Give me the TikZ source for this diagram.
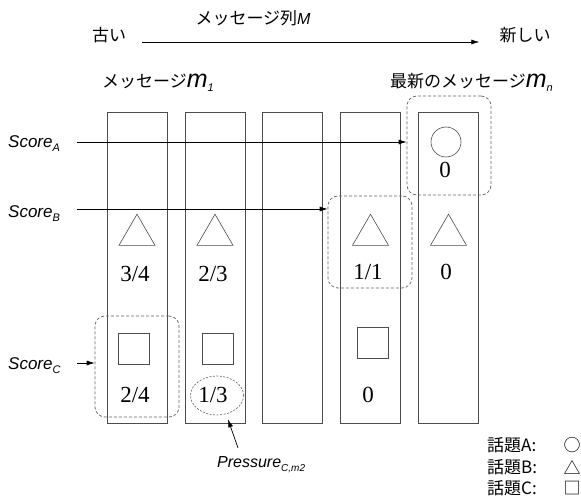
\documentclass[tikz,border=0pt]{standalone}
\usepackage{fontspec}
\setmainfont{Liberation Serif}
\setsansfont{Liberation Sans}
\newfontfamily\jp{Noto Sans CJK JP}
\usetikzlibrary{arrows.meta,shapes.geometric}
\newcommand{\mysub}[2][11]{\raisebox{-4pt}{\fontsize{#1}{#1}\selectfont #2}}
\begin{document}
\begin{tikzpicture}[x=1pt,y=-1pt,
  col/.style={draw=black!70, line width=0.8pt, rectangle, minimum width=60pt, minimum height=311pt, inner sep=0},
  tri/.style={draw=black!70, line width=0.6pt, regular polygon, regular polygon sides=3, minimum size=41.6pt, inner sep=0},
  sq/.style={draw=black!70, line width=0.6pt, rectangle, minimum size=31pt, inner sep=0},
  circ/.style={draw=black!70, line width=0.6pt, circle, minimum size=30pt, inner sep=0},
  frac/.style={font=\fontsize{23}{23}\selectfont, anchor=base, inner sep=0},
  jtext/.style={font=\jp\fontsize{17}{17}\selectfont, inner sep=0},
  lab/.style={font=\sffamily\itshape\fontsize{17}{17}\selectfont, inner sep=0},
  dbox/.style={draw=black!60, line width=0.7pt, dash pattern=on 3pt off 2pt, rectangle, rounded corners=10pt, inner sep=0},
  arr/.style={-{Latex[length=8pt,width=5pt]}, line width=0.7pt, draw=black},
]
\useasboundingbox (0,0) rectangle (581,500);
\fill[white] (0,0) rectangle (581,500);

% columns
\node[col] (c1) at (137,267.5) {};
\node[col] (c2) at (215,267.5) {};
\node[col] (c3) at (292,267.5) {};
\node[col] (c4) at (370,267.5) {};
\node[col] (c5) at (448.5,267.5) {};

% top labels
\node[jtext] (old) at (109,35) {古い};
\node[jtext] (new) at (525,35) {新しい};
\node[jtext] (seqlab) at (253,18) {メッセージ列{\sffamily\itshape\fontsize{16}{16}\selectfont M}};
\draw[arr] ([shift={(16,7)}]old.east) -- ([shift={(-20,7)}]new.west);

\node[jtext, anchor=base west] (m1lab) at (102,88) {メッセージ{\sffamily\itshape\fontsize{25}{25}\selectfont m\mysub{1}}};
\node[jtext, anchor=base west] (mnlab) at (390,88) {最新のメッセージ{\sffamily\itshape\fontsize{25}{25}\selectfont m\mysub{n}}};

% shapes
\node[circ] (o5) at (446,142) {};
\node[tri] (t1) at (137,235) {};
\node[tri] (t2) at (215,235) {};
\node[tri] (t4) at (370.5,235) {};
\node[tri] (t5) at (448.5,235) {};
\node[sq] (s1) at (133.5,348.5) {};
\node[sq] (s2) at (218,348.5) {};
\node[sq] (s4) at (373,342.5) {};

% numbers
\node[frac] (f5a) at (445,177) {0};
\node[frac] (f1b) at (135,281) {3/4};
\node[frac] (f2b) at (213,281) {2/3};
\node[frac] (f4b) at (368,279) {1/1};
\node[frac] (f5b) at (446,279) {0};
\node[frac] (f1c) at (135,402) {2/4};
\node[frac] (f2c) at (213,402) {1/3};
\node[frac] (f4c) at (368,402) {0};

% dashed groups
\node[dbox, minimum width=84pt, minimum height=99pt] (boxA) at (449,145.5) {};
\node[dbox, minimum width=84pt, minimum height=92pt] (boxB) at (370,242) {};
\node[dbox, minimum width=84pt, minimum height=101pt] (boxC) at (137,366.5) {};
\node[draw=black!60, line width=0.6pt, dash pattern=on 2pt off 1.5pt, ellipse, minimum width=53pt, minimum height=39pt, inner sep=0] (pe) at (217,395.5) {};

% score labels and arrows
\node[lab, anchor=base west] (sA) at (8,148) {Score\mysub{A}};
\node[lab, anchor=base west] (sB) at (8,217) {Score\mysub{B}};
\node[lab, anchor=base west] (sC) at (8,369) {Score\mysub{C}};
\coordinate (sAe) at (77,142);
\coordinate (sBe) at (77,209);
\coordinate (sCe) at (77,363);
\draw[arr] (sAe) -- (sAe -| boxA.west);
\draw[arr] (sBe) -- (sBe -| boxB.west);
\draw[arr] (sCe) -- (sCe -| boxC.west);

% pressure
\node[lab, anchor=base west, font=\sffamily\itshape\fontsize{16}{16}\selectfont] (pr) at (217,467) {Pressure\mysub[10]{C,m2}};
\draw[arr] ([shift={(21,-19)}]pr.base west) -- ([shift={(11,4)}]pe.south);

% legend
\node[jtext, anchor=west] (lA) at (487,445) {話題A:};
\node[jtext, anchor=west] (lB) at (487,467) {話題B:};
\node[jtext, anchor=west] (lC) at (487,488) {話題C:};
\node[jtext] (lAs) at (572,445) {○};
\node[jtext] (lBs) at (572,467) {△};
\node[jtext] (lCs) at (572,488) {□};
\end{tikzpicture}
\end{document}
